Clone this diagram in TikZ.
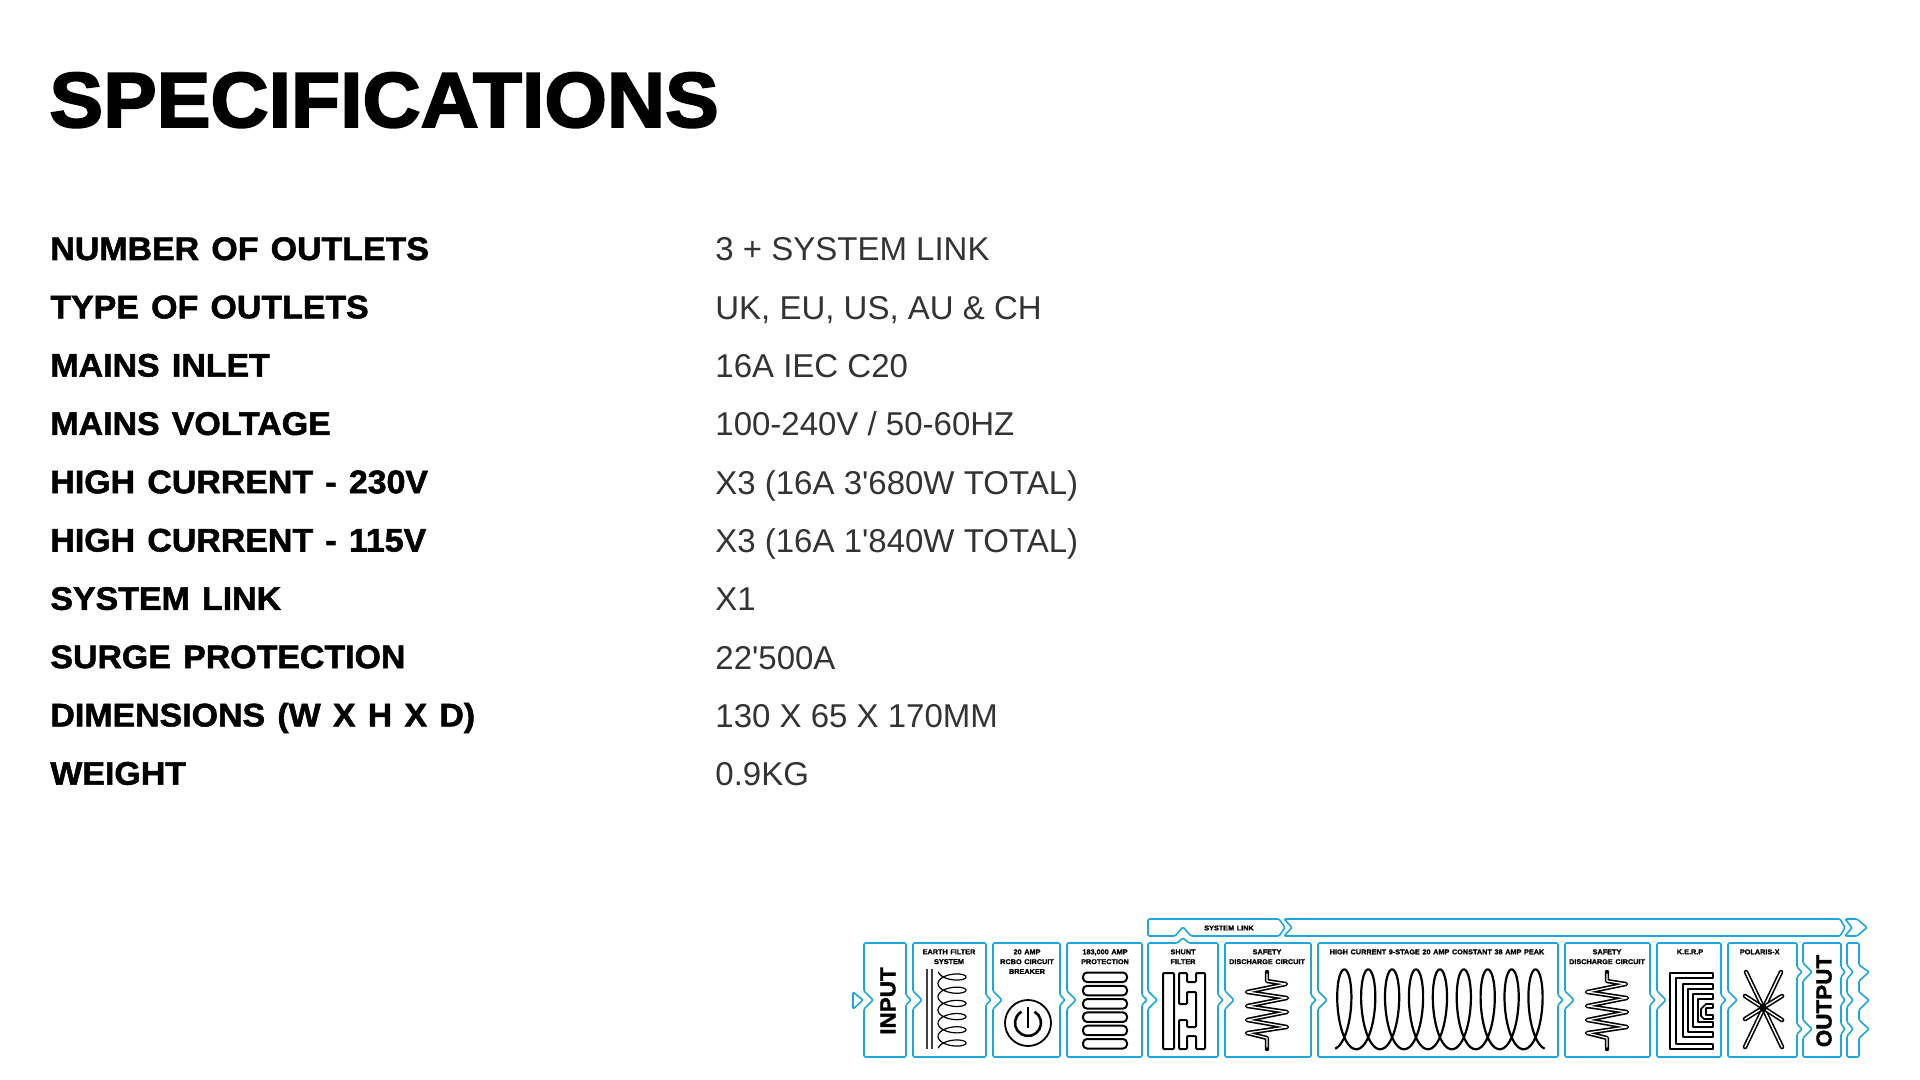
\documentclass[tikz,border=0pt]{standalone}
\usepackage{fontspec}
\setmainfont[Ligatures=TeXOff]{Liberation Sans}
\newfontfamily\headfont[BoldFeatures={FakeBold=2.4,FakeStretch=1.032}]{Liberation Sans}
\newfontfamily\heavyfont[BoldFeatures={FakeBold=1.6,FakeStretch=1.04,WordSpace=1.3}]{Liberation Sans}
\usepackage{tikz}
\definecolor{stageblue}{HTML}{1DA7DC}
\colorlet{valuegrey}{black!80}
\tikzset{
  stage/.style={draw=stageblue,line width=0.8pt,rounded corners=0.6pt,line join=round},
  icon/.style={draw=black,line width=1pt,line join=round},
  thickcoil/.style={draw=black,line width=2.2pt,line cap=round,line join=round},
  thincoil/.style={draw=white,line width=0.6pt,line cap=round,line join=round},
  headline/.style={anchor=base west,inner sep=0pt,font=\headfont\bfseries\fontsize{39}{39}\selectfont},
  speclabel/.style={anchor=base west,inner sep=0pt,font=\heavyfont\bfseries\fontsize{16.3}{16.3}\selectfont},
  specvalue/.style={anchor=base west,inner sep=0pt,text=valuegrey,font=\fontsize{16.5}{16.5}\selectfont},
  tinylabel/.style={anchor=north,inner sep=0pt,align=center,font=\heavyfont\bfseries\fontsize{3.5}{4.9}\selectfont},
  bigstage/.style={inner sep=0pt,rotate=90,font=\heavyfont\bfseries\fontsize{10.8}{10.8}\selectfont}
}
\newcommand\stagebox[2]{%
  \draw[stage] (#1,943) -- (#2,943) -- (#2,995) -- (#2+5,1000) -- (#2,1005) -- (#2,1057)
    -- (#1,1057) -- (#1,1009) -- (#1+9,1000) -- (#1,991) -- cycle;
}
\begin{document}
\begin{tikzpicture}[x=0.5pt,y=-0.5pt]
\useasboundingbox (0,0) rectangle (1920,1080);
\node[headline] (title) at (49,127) {SPECIFICATIONS};
\foreach \spec/\val [count=\n] in {
  NUMBER OF OUTLETS/3 + SYSTEM LINK,
  TYPE OF OUTLETS/{UK, EU, US, AU \& CH},
  MAINS INLET/16A IEC C20,
  MAINS VOLTAGE/{100-240V / 50-60HZ},
  HIGH CURRENT - 230V/X3 (16A 3'680W TOTAL),
  HIGH CURRENT - 115V/X3 (16A 1'840W TOTAL),
  SYSTEM LINK/X1,
  SURGE PROTECTION/22'500A,
  DIMENSIONS (W X H X D)/130 X 65 X 170MM,
  WEIGHT/0.9KG
} {
  \node[speclabel] (label\n) at (50,{260+58.3*(\n-1)}) {\spec};
  \node[specvalue] (value\n) at (715,{261+58.3*(\n-1)}) {\val};
}
\draw[stage] (853,992) -- (863,1000) -- (853,1009) -- cycle;
\stagebox{864}{906}
\stagebox{913}{986}
\stagebox{993}{1060}
\stagebox{1067}{1142}
\stagebox{1225}{1311}
\stagebox{1318}{1558}
\stagebox{1565}{1650}
\stagebox{1657}{1721}
\draw[stage] (1148,943) -- (1177,943) -- (1183,938) -- (1189,943) -- (1218,943) -- (1218,995) -- (1223,1000) -- (1218,1005)
  -- (1218,1057) -- (1148,1057) -- (1148,1009) -- (1157,1000) -- (1148,991) -- cycle;
\draw[stage] (1728,943) -- (1797,943) -- (1797,967) -- (1802,972) -- (1797,977) -- (1797,1024) -- (1802,1029) -- (1797,1034)
  -- (1797,1057) -- (1728,1057) -- (1728,1009) -- (1737,1000) -- (1728,991) -- cycle;
\draw[stage] (1803,943) -- (1841,943) -- (1841,967) -- (1845,972) -- (1841,977) -- (1841,995) -- (1845,1000) -- (1841,1005)
  -- (1841,1024) -- (1845,1029) -- (1841,1034) -- (1841,1057) -- (1803,1057) -- (1803,1038) -- (1812,1029) -- (1803,1020)
  -- (1803,981) -- (1812,972) -- (1803,963) -- cycle;
\draw[stage] (1847,943) -- (1859,943) -- (1859,965) -- (1869,972) -- (1859,981) -- (1859,992) -- (1869,1000) -- (1859,1010)
  -- (1859,1020) -- (1869,1029) -- (1859,1038) -- (1859,1057) -- (1847,1057) -- (1847,1036) -- (1853,1029) -- (1847,1022)
  -- (1847,1007) -- (1853,1000) -- (1847,993) -- (1847,979) -- (1853,972) -- (1847,965) -- cycle;
\draw[stage] (1148,919) -- (1279,919) -- (1285,927.5) -- (1279,936) -- (1191,936) -- (1183,927) -- (1175,936) -- (1148,936) -- cycle;
\draw[stage] (1284,919) -- (1840,919) -- (1845,927.5) -- (1840,936) -- (1284,936) -- (1292,927.5) -- cycle;
\draw[stage] (1845,919) -- (1857,919) -- (1867,927.5) -- (1857,936) -- (1845,936) -- (1852,927.5) -- cycle;
\node[bigstage] (input) at (888,1001) {INPUT};
\node[bigstage] (output) at (1824,1001) {OUTPUT};
\node[tinylabel,anchor=center] (systemlink) at (1229,928) {SYSTEM LINK};
\foreach \name/\cx/\txt in {
  earth/949/{EARTH FILTER\\SYSTEM},
  rcbo/1027/{20 AMP\\RCBO CIRCUIT\\BREAKER},
  protection/1105/{183,000 AMP\\PROTECTION},
  shunt/1183/{SHUNT\\FILTER},
  safetyone/1267/{SAFETY\\DISCHARGE CIRCUIT},
  highcurrent/1437/{HIGH CURRENT 9-STAGE 20 AMP CONSTANT 38 AMP PEAK},
  safetytwo/1607/{SAFETY\\DISCHARGE CIRCUIT},
  kerp/1690/{K.E.R.P},
  polaris/1761/{POLARIS-X}
} {
  \node[tinylabel] (\name) at (\cx,949) {\txt};
}
\draw[draw=black!75,line width=0.8pt] (927,969) -- (927,1049) (932,969) -- (932,1049);
\draw[icon,line width=0.6pt] plot[smooth,domain=-170:1970,samples=180,variable=\t]
  ({952+14*cos(\t)},{977+0.03667*\t-6*sin(\t)});
\draw[icon,line width=0.9pt] (1028,1023) circle (23);
\draw[icon,line width=1.3pt] (1034.5,1011.7) arc[start angle=-60,end angle=240,radius=13];
\draw[icon,line width=1.3pt] (1028,1007) -- (1028,1028);
\foreach \k in {0,...,5} {
  \draw[icon,rounded corners=2pt] (1083,{972.5+13.3*\k}) rectangle (1127,{982+13.3*\k});
}
\draw[icon] (1163,973) [rounded corners=0.5pt] -- (1174,973) -- (1174,1049) -- (1163,1049) -- cycle;
\draw[icon] (1179,973) [rounded corners=0.5pt] -- (1187,973) -- (1187,982) -- (1196,982) -- (1196,973) -- (1205,973)
  -- (1205,1049) -- (1196,1049) -- (1196,1036) -- (1187,1036) -- (1187,1049) -- (1179,1049) -- (1179,1020) -- (1187,1020)
  -- (1187,1027) -- (1196,1027) -- (1196,992) -- (1187,992) -- (1187,1004) -- (1179,1004) -- cycle;
\foreach \cx in {1267,1607} {
  \begin{scope}[shift={(\cx,0)}]
  \draw[thickcoil] (0,972) -- (0,981) -- (19,984) -- (-20,992) -- (20,998) -- (-20,1006) -- (20,1012) -- (-20,1020) -- (20,1027) -- (-20,1033) -- (0,1038) -- (0,1049);
  \draw[thincoil] (0,974) -- (0,981) -- (19,984) -- (-20,992) -- (20,998) -- (-20,1006) -- (20,1012) -- (-20,1020) -- (20,1027) -- (-20,1033) -- (0,1038) -- (0,1047);
  \end{scope}
}
\draw[icon,line width=1.1pt] plot[smooth,domain=-170:3050,samples=320,variable=\t]
  ({1344.3+0.06639*\t-12.5*sin(\t)},{1009.3-40*cos(\t)});
\draw[icon,line width=0.9pt] (1713,973) -- (1670,973) -- (1670,1049) -- (1713,1049) -- (1713,1044) -- (1676,1044) -- (1676,978) -- (1713,978) -- cycle;
\draw[icon,line width=0.9pt] (1713,984) -- (1683,984) -- (1683,1037) -- (1713,1037) -- (1713,1032) -- (1688,1032) -- (1688,989) -- (1713,989) -- cycle;
\draw[icon,line width=0.9pt] (1713,994) -- (1693,994) -- (1693,1027) -- (1713,1027) -- (1713,1022) -- (1698,1022) -- (1698,999) -- (1713,999) -- cycle;
\draw[icon,line width=0.8pt] (1713,1004) -- (1706,1004) -- (1701,1009) -- (1701,1016) -- (1704,1019) -- (1713,1019) -- (1713,1015) -- (1706,1015) -- (1706,1008) -- (1713,1008) -- cycle;
\foreach \xa/\ya/\xb/\yb in {1746/972/1782/1047,1781/972/1745/1047,1745/996/1782/1020,1782/996/1745/1019} {
  \draw[thickcoil,line width=2.3pt] (\xa,\ya) -- (\xb,\yb);
  \draw[thincoil,line width=0.7pt] (\xa,\ya) -- (\xb,\yb);
}
\fill (1763,1008) circle (4);
\end{tikzpicture}
\end{document}
